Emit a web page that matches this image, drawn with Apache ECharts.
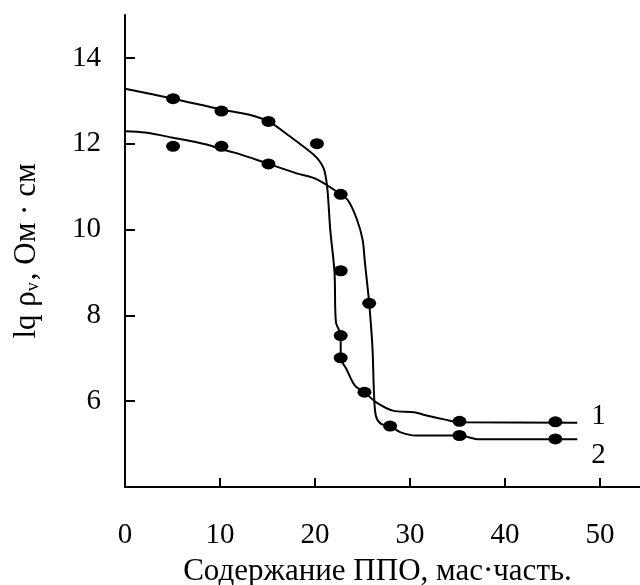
<!DOCTYPE html>
<html>
<head>
<meta charset="utf-8">
<script src="https://cdn.jsdelivr.net/npm/echarts@6/dist/echarts.min.js"></script>
<style>
  html, body { margin: 0; padding: 0; background: #fff; }
  #chart { width: 640px; height: 585px; }
</style>
</head>
<body>
<div id="chart"></div>
<script>
// tick labels
var xTicks = [0, 10, 20, 30, 40, 50];
var yTicks = [6, 8, 10, 12, 14];

// curve 1 (upper at start, ends at ~5.5)
var curve1 = [
    [0, 13.28], [5.06, 13.05], [10.15, 12.8], [13, 12.68], [15.1, 12.52],
    [17.3, 12.18], [19.15, 11.87], [20.2, 11.67], [20.95, 11.4], [21.3, 10.94],
    [21.6, 10.0], [22.05, 9.0], [22.2, 7.84], [22.7, 7.53], [22.7, 7.01],
    [23.3, 6.75], [24.2, 6.36], [25.2, 6.21], [26.4, 5.98], [28.2, 5.78],
    [30.4, 5.74], [31.85, 5.66], [33.7, 5.57], [35.2, 5.51], [47.6, 5.5]
];
// curve 2 (lower at start, ends at ~5.1)
var curve2 = [
    [0, 12.29], [2.1, 12.26], [5.06, 12.14], [8.6, 11.98], [10.15, 11.87],
    [11.9, 11.77], [15.1, 11.53], [18.05, 11.31], [20.2, 11.17], [22.7, 10.82],
    [23.5, 10.67], [24.4, 10.24], [25.0, 9.77], [25.25, 9.23], [25.7, 8.28],
    [26.05, 7.22], [26.2, 6.21], [26.4, 5.66], [26.95, 5.47], [27.9, 5.42],
    [28.95, 5.28], [30.6, 5.2], [35.2, 5.2], [37.3, 5.11], [47.6, 5.11]
];

// measured points
var dots1 = [
    [5.06, 13.05], [10.15, 12.76], [15.1, 12.52], [20.2, 12.0], [22.7, 9.04],
    [22.7, 7.53], [22.7, 7.01], [25.2, 6.21], [35.2, 5.53], [45.3, 5.52]
];
var dots2 = [
    [5.06, 11.94], [10.15, 11.94], [15.1, 11.53], [22.7, 10.82], [25.7, 8.28],
    [27.9, 5.42], [35.2, 5.2], [45.3, 5.12]
];

var serif = 'Liberation Serif';

function chartMain(id) {
    var myChart = echarts.init(document.getElementById(id));
    var option = {
        animation: false,
        backgroundColor: '#ffffff',
        textStyle: { fontFamily: serif, color: '#000' },
        grid: {
            left: 125,
            right: 0,
            top: 15,
            bottom: 98,
            outerBoundsMode: 'none'
        },
        xAxis: {
            type: 'value',
            min: 0,
            max: 54.2,
            name: 'Содержание ППО, мас·часть.',
            nameLocation: 'middle',
            nameGap: 69,
            nameTextStyle: {
                fontFamily: serif,
                fontSize: 31,
                color: '#000',
                padding: [0, 10, 0, 0]
            },
            axisLine: { show: true, onZero: false, lineStyle: { color: '#000', width: 2 } },
            axisTick: {
                show: true,
                inside: true,
                length: 9,
                customValues: xTicks,
                lineStyle: { color: '#000', width: 2 }
            },
            axisLabel: {
                customValues: xTicks,
                margin: 34,
                fontFamily: serif,
                fontSize: 29,
                color: '#000'
            },
            splitLine: { show: false }
        },
        yAxis: {
            type: 'value',
            min: 4,
            max: 15,
            name: '{a|lq ρ}{s|v}{a|, Ом · см}',
            nameLocation: 'middle',
            nameGap: 83,
            nameRotate: 90,
            nameTextStyle: {
                rich: {
                    a: { fontFamily: serif, fontSize: 31, color: '#000' },
                    s: { fontFamily: serif, fontSize: 18, color: '#000', verticalAlign: 'bottom', padding: [0, 2, 0, 0] }
                }
            },
            axisLine: { show: true, onZero: false, lineStyle: { color: '#000', width: 2 } },
            axisTick: {
                show: true,
                inside: true,
                length: 10,
                customValues: yTicks,
                lineStyle: { color: '#000', width: 2 }
            },
            axisLabel: {
                customValues: yTicks,
                margin: 24,
                fontFamily: serif,
                fontSize: 29,
                color: '#000'
            },
            splitLine: { show: false }
        },
        series: [
            {
                name: '1',
                type: 'line',
                data: curve1,
                smooth: 0.3,
                showSymbol: false,
                lineStyle: { color: '#000', width: 2 },
                endLabel: {
                    show: true,
                    formatter: '1',
                    offset: [6, -6],
                    fontFamily: serif,
                    fontSize: 29,
                    color: '#000'
                }
            },
            {
                name: '2',
                type: 'line',
                data: curve2,
                smooth: 0.3,
                showSymbol: false,
                lineStyle: { color: '#000', width: 2 },
                endLabel: {
                    show: true,
                    formatter: '2',
                    offset: [6, 16],
                    fontFamily: serif,
                    fontSize: 29,
                    color: '#000'
                }
            },
            {
                type: 'scatter',
                data: dots1,
                symbol: 'circle',
                symbolSize: [14, 11],
                itemStyle: { color: '#000', opacity: 1 }
            },
            {
                type: 'scatter',
                data: dots2,
                symbol: 'circle',
                symbolSize: [14, 11],
                itemStyle: { color: '#000', opacity: 1 }
            }
        ]
    };
    myChart.setOption(option);
    return myChart;
}

var chartInit = chartMain('chart');
window.addEventListener('resize', function () {
    chartInit.resize();
});
</script>
</body>
</html>
